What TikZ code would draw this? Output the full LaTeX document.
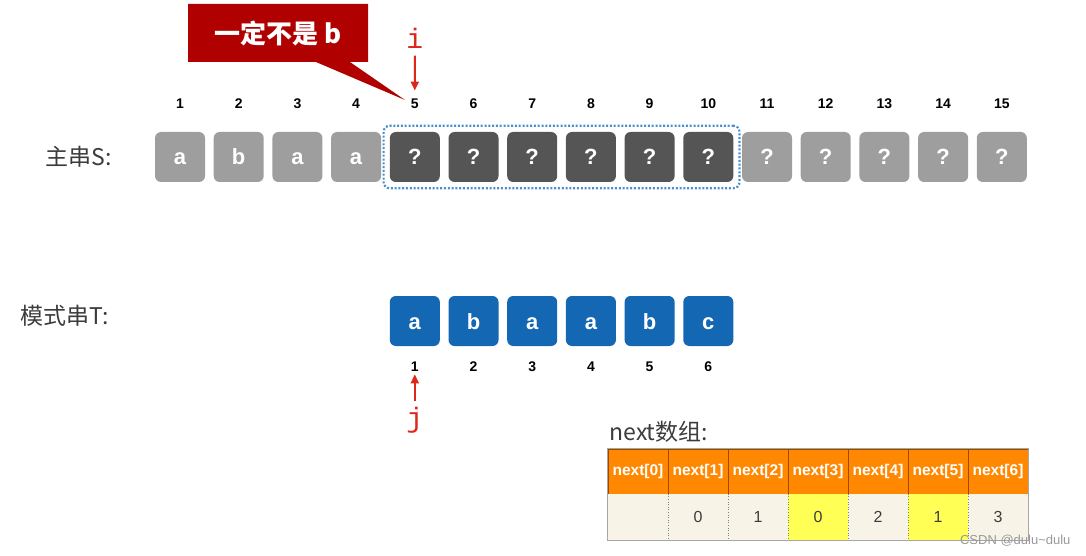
\documentclass[tikz,border=0pt]{standalone}
\usepackage{fontspec}
\setmainfont{Liberation Sans}
\setmonofont{Liberation Mono}
\newfontfamily\cjk{Noto Sans CJK SC}
\usetikzlibrary{arrows.meta,shapes.callouts,fit}

\definecolor{boxgray}{HTML}{9E9E9E}
\definecolor{boxdark}{HTML}{555555}
\definecolor{boxblue}{HTML}{1467B2}
\definecolor{noteRed}{HTML}{B00000}
\definecolor{ptrRed}{HTML}{E0251B}
\definecolor{winBlue}{HTML}{4A8FD0}
\definecolor{headOrange}{HTML}{FF8800}
\definecolor{valCream}{HTML}{F7F4E7}
\definecolor{valYellow}{HTML}{FFFF55}
\definecolor{labelGray}{HTML}{3C3C3C}

\begin{document}
\begin{tikzpicture}[x=1pt, y=-1pt,
    every node/.style={font=\fontsize{14}{16}\selectfont},
    chr/.style={rounded corners=6pt, minimum width=50pt, minimum height=50pt, text=white,
                text height=16pt, text depth=0pt,
                font=\fontsize{22}{24}\selectfont\bfseries},
    sold/.style={chr, fill=boxgray},
    scur/.style={chr, fill=boxdark},
    tchr/.style={chr, fill=boxblue},
    num/.style={font=\fontsize{14}{16}\selectfont\bfseries, text=black},
    side/.style={anchor=west, text=labelGray, font=\fontsize{23}{26}\selectfont\cjk},
    ptrlab/.style={text=ptrRed, font=\fontsize{28}{30}\selectfont\ttfamily},
    ptr/.style={-{Triangle[length=9pt,width=8pt]}, draw=ptrRed, line width=2pt},
    head/.style={minimum width=60pt, minimum height=45pt, inner sep=0pt, fill=headOrange,
                 draw=orange!60!black, line width=0.4pt, text=white,
                 font=\fontsize{15.5}{17}\selectfont\bfseries},
    val/.style={minimum width=60pt, minimum height=46pt, inner sep=0pt, fill=valCream,
                font=\fontsize{16}{18}\selectfont, text=labelGray}
]
\useasboundingbox (0,0) rectangle (1086,556);

% main string S
\node[side] (slab) at (42,157) {主串S:};
\foreach \k/\c/\st in {1/a/sold, 2/b/sold, 3/a/sold, 4/a/sold,
                       5/?/scur, 6/?/scur, 7/?/scur, 8/?/scur, 9/?/scur, 10/?/scur,
                       11/?/sold, 12/?/sold, 13/?/sold, 14/?/sold, 15/?/sold} {
    \node[\st] (s\k) at ({180+58.7*(\k-1)},157) {\c};
    \node[num] (n\k) at ({180+58.7*(\k-1)},104) {\k};
}
\node[fit=(s5)(s10), inner sep=6pt, rounded corners=6pt, draw=winBlue, line width=2.2pt,
      dash pattern=on 2pt off 1.8pt] (win) {};

% callout and pointer i
\node[rectangle callout, fill=noteRed, text=white, minimum width=180pt, minimum height=58pt,
      callout absolute pointer={(405,100)}, callout pointer width=34pt,
      font=\fontsize{26}{28}\selectfont\cjk\bfseries] (note) at (278,33) {一定不是 b};
\node[ptrlab] (ilab) at (414.8,38) {i};
\draw[ptr, shorten <=4pt, shorten >=5pt] (ilab) -- (n5);

% pattern string T
\node[side] (tlab) at (17,316) {模式串T:};
\foreach \k/\c in {1/a, 2/b, 3/a, 4/a, 5/b, 6/c} {
    \node[tchr] (t\k) at ({414.8+58.7*(\k-1)},321) {\c};
    \node[num] (m\k) at ({414.8+58.7*(\k-1)},367) {\k};
}
\node[ptrlab] (jlab) at (414.8,420) {j};
\draw[ptr, shorten <=2pt, shorten >=-1pt] (jlab) -- (m1);

% next array
\node[side] (nlab) at (606,432) {next数组:};
\foreach \k/\v/\f in {0//valCream, 1/0/valCream, 2/1/valCream, 3/0/valYellow,
                      4/2/valCream, 5/1/valYellow, 6/3/valCream} {
    \node[head] (h\k) at ({638+60*\k},471.5) {next[\k]};
    \node[val, fill=\f] (v\k) at ({638+60*\k},517) {\v};
}
\foreach \k in {0,...,5}
    \draw[gray, dotted, line width=0.6pt] (v\k.north east) -- (v\k.south east);
\draw[gray!70, line width=0.8pt] (h0.north west) rectangle (v6.south east);

\node[anchor=east, text=gray!80, font=\fontsize{13}{15}\selectfont] (mark) at (1074,541) {CSDN @dulu\textasciitilde dulu};
\end{tikzpicture}
\end{document}
